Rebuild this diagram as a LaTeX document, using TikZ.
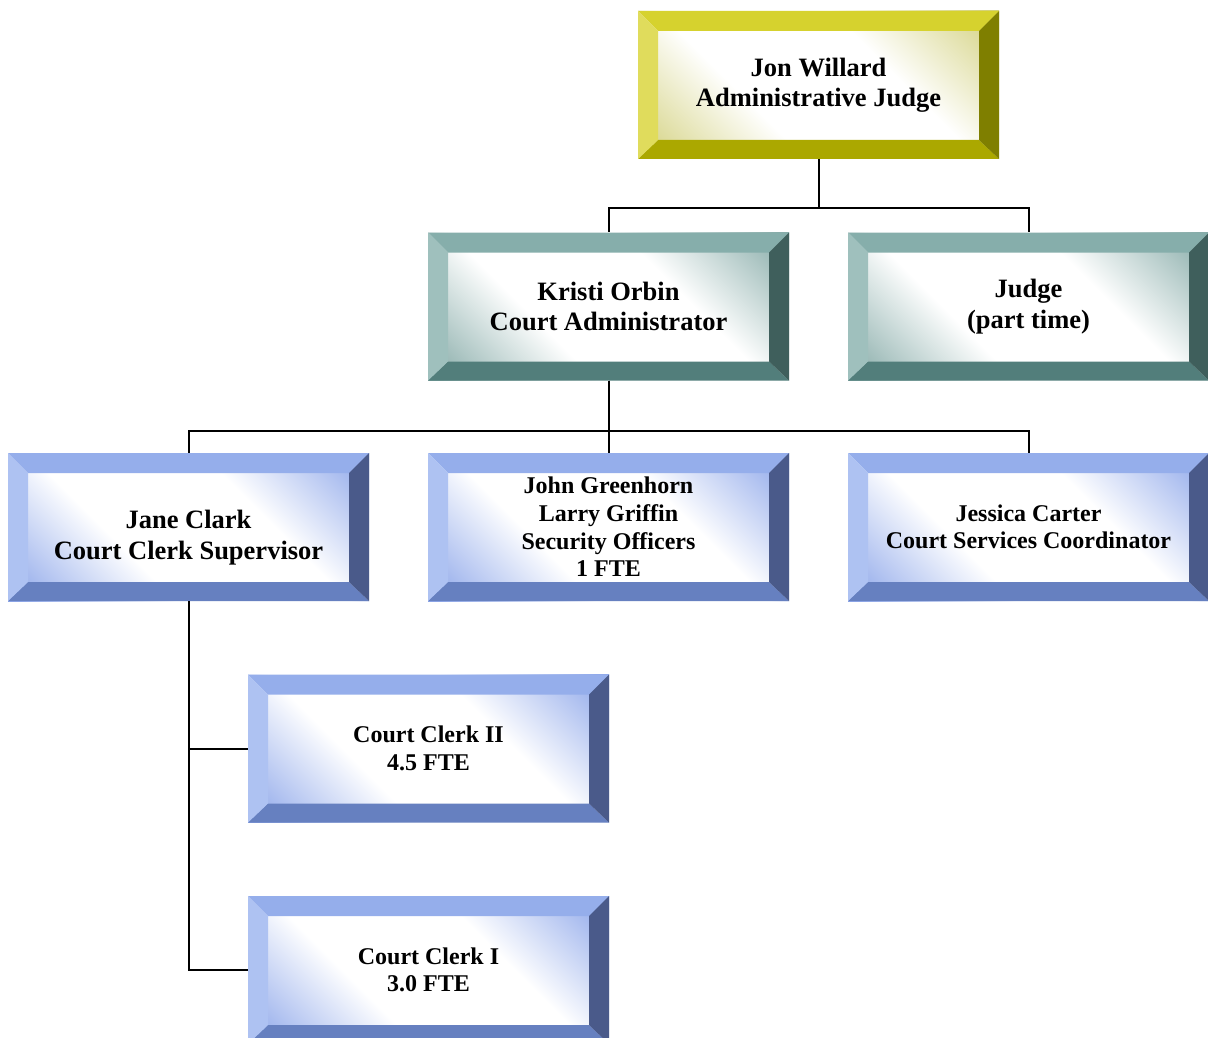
\documentclass[tikz,border=0pt]{standalone}
\usepackage{fontspec}
\setmainfont{Liberation Serif}

\definecolor{goldT}{HTML}{D6D22E}
\definecolor{goldL}{HTML}{E0DC5C}
\definecolor{goldR}{HTML}{7F7F00}
\definecolor{goldB}{HTML}{ABA800}
\definecolor{goldtint}{HTML}{D4D282}
\definecolor{tealT}{HTML}{86AEAB}
\definecolor{tealL}{HTML}{9FC0BD}
\definecolor{tealR}{HTML}{3F5F5C}
\definecolor{tealB}{HTML}{527E7B}
\definecolor{tealtint}{HTML}{88ACA9}
\definecolor{blueT}{HTML}{95AEEB}
\definecolor{blueL}{HTML}{AEC2F2}
\definecolor{blueR}{HTML}{4A5A8A}
\definecolor{blueB}{HTML}{6680C0}
\definecolor{bluetint}{HTML}{8FA8EA}

\pgfdeclarehorizontalshading{goldin}{100bp}{color(0bp)=(goldtint); color(16bp)=(goldtint); color(38bp)=(white); color(62bp)=(white); color(84bp)=(goldtint); color(100bp)=(goldtint)}
\pgfdeclarehorizontalshading{tealin}{100bp}{color(0bp)=(tealtint); color(16bp)=(tealtint); color(38bp)=(white); color(62bp)=(white); color(84bp)=(tealtint); color(100bp)=(tealtint)}
\pgfdeclarehorizontalshading{bluein}{100bp}{color(0bp)=(bluetint); color(16bp)=(bluetint); color(38bp)=(white); color(62bp)=(white); color(84bp)=(bluetint); color(100bp)=(bluetint)}

\newcommand\bigtxt{\fontsize{26.5}{30.5}\selectfont\bfseries}
\newcommand\smalltxt{\fontsize{24}{27.6}\selectfont\bfseries}

\tikzset{
  bevel/.style n args={4}{path picture={
    % top, bottom, left, right faces
    \fill[#1] (path picture bounding box.north west) -- (path picture bounding box.north east)
      -- ([xshift=-20pt,yshift=-20pt]path picture bounding box.north east)
      -- ([xshift=20pt,yshift=-20pt]path picture bounding box.north west) -- cycle;
    \fill[#4] (path picture bounding box.south west) -- (path picture bounding box.south east)
      -- ([xshift=-20pt,yshift=19pt]path picture bounding box.south east)
      -- ([xshift=20pt,yshift=19pt]path picture bounding box.south west) -- cycle;
    \fill[#2] (path picture bounding box.north west) -- ([xshift=20pt,yshift=-20pt]path picture bounding box.north west)
      -- ([xshift=20pt,yshift=19pt]path picture bounding box.south west)
      -- (path picture bounding box.south west) -- cycle;
    \fill[#3] (path picture bounding box.north east) -- ([xshift=-20pt,yshift=-20pt]path picture bounding box.north east)
      -- ([xshift=-20pt,yshift=19pt]path picture bounding box.south east)
      -- (path picture bounding box.south east) -- cycle;
  }},
  box/.style={minimum width=361pt, minimum height=148pt, inner sep=0pt,
    align=center, shade, shading angle=45},
  goldbox/.style={box, shading=goldin, bevel={goldT}{goldL}{goldR}{goldB}, font=\bigtxt},
  tealbox/.style={box, shading=tealin, bevel={tealT}{tealL}{tealR}{tealB}, font=\bigtxt},
  bluebox/.style={box, shading=bluein, bevel={blueT}{blueL}{blueR}{blueB}, font=\smalltxt},
  link/.style={line width=2pt}
}

\begin{document}
\begin{tikzpicture}[x=1pt,y=-1pt]
\useasboundingbox (0,0) rectangle (1208,1038);

\node[goldbox] (willard) at (818.5,85) {Jon Willard\\Administrative Judge};

\node[tealbox] (orbin) at (608.5,306.5) {Kristi Orbin\\Court Administrator};
\node[tealbox] (judge) at (1028.5,306.5) {Judge\\(part time)};

\node[bluebox, font=\bigtxt] (clark) at (188.5,527)
  {\rule{0pt}{40pt}Jane Clark\\Court Clerk Supervisor};
\node[bluebox] (security) at (608.5,527) {John Greenhorn\\Larry Griffin\\Security Officers\\1 FTE};
\node[bluebox] (carter) at (1028.5,527) {Jessica Carter\\Court Services Coordinator};

\node[bluebox] (clerkII) at (428.5,748.5) {Court Clerk II\\4.5 FTE};
\node[bluebox] (clerkI) at (428.5,970) {Court Clerk I\\3.0 FTE};

\draw[link] (willard.south) -- ++(0,49) -| (orbin.north);
\draw[link] (willard.south) -- ++(0,49) -| (judge.north);

\draw[link] (orbin.south) -- ++(0,50) -| (clark.north);
\draw[link] (orbin.south) -- (security.north);
\draw[link] (orbin.south) -- ++(0,50) -| (carter.north);

\draw[link] (clark.south) |- (clerkII.west);
\draw[link] (clark.south) |- (clerkI.west);
\end{tikzpicture}
\end{document}
